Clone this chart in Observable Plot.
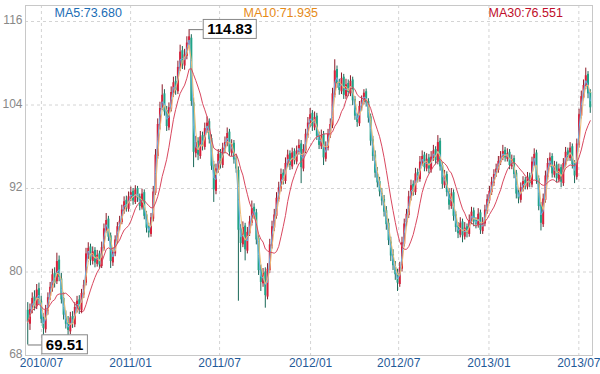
<!DOCTYPE html>
<html><head><meta charset="utf-8">
<script src="https://cdn.jsdelivr.net/npm/d3@7"></script>
<script src="https://cdn.jsdelivr.net/npm/@observablehq/plot@0.6"></script>
<style>html,body{margin:0;padding:0;background:#fff;} #chart{width:600px;height:374px;}</style>
</head><body><div id="chart"></div>
<script>
const open = [
74.5,72.5,74.9,76.4,75.0,77.6,75.8,73.4,71.7,74.3,
76.5,77.6,79.8,78.6,81.7,79.0,76.2,73.6,72.7,71.4,
73.6,72.4,74.7,76.0,74.4,76.7,78.4,82.4,83.6,81.5,
83.1,81.1,82.6,80.8,83.3,86.0,87.6,85.2,81.3,82.6,
84.4,86.7,87.1,88.7,90.3,89.0,90.6,91.6,90.0,92.0,
90.8,89.2,91.4,88.2,86.5,85.4,87.6,91.3,96.6,101.0,
103.7,105.6,103.2,100.7,103.4,105.6,107.4,105.9,109.2,111.8,
109.6,111.0,112.7,113.6,104.3,97.0,98.8,96.6,99.6,97.9,
100.4,101.6,99.2,95.4,91.6,94.6,97.1,95.3,97.6,98.4,
100.1,97.0,98.5,96.3,94.6,86.2,83.9,86.6,83.0,85.5,
87.0,89.3,88.5,84.8,80.4,78.3,80.0,76.4,80.2,83.7,
86.3,88.0,90.4,91.9,94.2,93.0,95.4,97.0,95.1,97.3,
95.8,97.2,98.4,94.8,97.4,99.6,101.2,102.8,100.7,102.4,
99.7,98.0,99.8,96.2,97.8,99.6,101.0,105.4,109.1,107.2,
105.9,108.0,105.2,107.1,105.6,107.6,104.8,102.2,101.3,103.6,
104.4,105.9,104.5,102.3,99.0,96.8,94.0,93.0,91.3,90.4,
88.8,87.0,84.3,82.5,80.7,79.8,78.2,80.4,84.0,87.1,
88.1,90.6,92.6,91.4,94.3,93.3,95.6,96.8,94.8,96.4,
94.6,96.3,97.6,95.8,98.8,95.3,92.4,94.0,91.6,89.4,
91.4,88.2,86.6,85.3,87.2,85.0,86.5,85.4,87.2,88.8,
87.4,86.7,88.5,85.8,86.9,88.7,90.2,91.4,92.7,94.2,
94.6,95.7,96.4,97.5,96.2,97.2,95.1,96.3,94.2,91.4,
90.3,91.9,93.2,92.2,93.8,92.5,95.6,97.1,93.4,89.6,
86.8,90.3,93.6,95.4,96.6,93.9,95.4,93.2,95.0,92.7,
95.4,97.4,96.3,98.0,95.6,93.6,98.2,102.4,105.0,106.6,
108.4,105.8];
const high = [
75.6,75.4,77.0,77.3,78.2,78.4,76.5,74.0,75.2,77.0,
78.5,80.4,80.6,82.7,82.3,79.8,77.0,74.4,73.6,74.2,
74.3,75.6,76.5,76.6,77.5,78.8,83.4,84.2,84.0,83.6,
83.5,83.1,83.0,84.3,86.9,88.4,88.0,85.6,83.5,85.2,
87.1,88.0,89.6,90.8,90.9,91.5,92.2,92.0,92.4,92.3,
91.2,91.9,91.8,88.7,87.0,88.4,92.3,97.6,102.0,104.4,
106.9,106.2,103.8,104.3,106.6,108.0,108.1,110.3,112.6,112.4,
112.0,113.8,114.83,114.1,105.0,99.5,99.3,100.2,100.1,101.4,
102.3,102.0,99.7,95.9,95.5,97.6,97.6,98.5,99.4,100.7,
100.5,99.0,98.9,96.8,95.1,86.8,87.2,87.0,86.4,88.0,
90.2,89.8,89.0,85.2,81.0,80.5,80.6,81.2,84.7,87.3,
89.0,91.4,92.9,94.8,94.7,96.4,97.5,97.4,97.8,97.7,
98.1,99.0,98.9,98.3,100.5,102.2,103.5,103.2,103.0,102.8,
100.1,100.4,100.2,98.7,100.5,102.0,106.4,110.5,109.6,107.7,
108.6,108.4,107.7,107.6,108.2,108.0,105.2,102.8,104.5,105.3,
106.2,106.3,104.9,102.7,99.5,97.4,95.0,93.6,92.0,91.0,
89.4,87.6,85.0,83.2,81.5,80.4,81.4,85.0,87.6,89.0,
91.6,93.2,93.1,94.9,94.8,96.6,97.4,97.2,97.0,96.9,
97.3,98.2,98.0,99.6,99.2,95.7,94.6,94.4,92.0,92.0,
91.8,88.7,87.1,87.8,87.6,87.1,86.9,88.2,89.3,89.2,
87.8,89.1,88.9,87.8,89.6,91.1,92.3,93.6,94.7,95.5,
96.6,97.3,98.2,97.9,97.7,97.6,96.8,96.7,94.6,91.8,
92.8,93.7,93.6,94.3,94.2,96.5,97.7,97.5,93.8,90.0,
91.2,94.5,96.3,97.1,97.0,95.9,95.8,95.5,95.4,96.3,
97.9,97.8,98.6,98.4,96.0,99.1,103.4,106.0,107.6,109.3,
108.8,106.2];
const low = [
69.51,71.6,74.0,74.4,74.6,75.3,72.6,70.9,71.2,73.8,
75.9,77.1,77.7,78.2,78.6,75.4,73.1,71.8,70.7,71.0,
71.9,72.0,74.1,73.9,74.0,76.2,78.0,81.8,80.9,81.0,
80.6,80.7,80.4,80.5,83.0,85.6,84.4,80.5,80.8,82.2,
84.0,85.9,86.8,88.3,88.6,88.6,90.1,89.6,89.7,90.0,
88.8,88.9,87.5,85.6,84.9,85.0,87.2,91.0,96.2,100.4,
103.2,102.4,100.2,100.3,103.0,105.1,105.4,105.5,108.8,109.1,
109.0,110.5,112.1,103.8,95.0,96.4,96.0,96.2,97.4,97.5,
99.9,98.4,94.6,90.0,91.1,94.2,94.8,94.9,97.1,98.0,
96.6,96.6,95.5,94.2,75.8,82.8,83.5,81.6,82.6,85.1,
86.6,87.6,83.9,79.5,77.2,77.8,74.8,76.0,79.8,83.3,
85.8,87.6,90.0,91.5,92.5,92.6,95.0,94.6,94.7,95.4,
95.4,96.8,92.7,94.4,97.0,99.2,100.8,100.2,100.3,98.9,
97.6,97.6,95.3,95.8,97.4,99.2,100.6,105.0,106.4,105.4,
105.5,104.8,104.8,105.2,105.2,103.9,101.8,100.8,100.9,103.1,
104.0,103.7,101.4,98.1,95.9,93.5,92.1,90.8,89.5,87.9,
86.0,83.8,81.5,80.2,78.8,77.2,77.8,80.0,83.6,86.4,
87.7,90.2,90.9,91.0,92.8,92.9,95.2,94.4,94.4,94.1,
94.2,95.9,95.4,95.4,94.5,91.9,92.0,90.8,88.9,89.0,
87.3,85.7,84.8,84.9,84.2,84.6,84.9,85.0,86.8,86.5,
86.2,86.3,85.4,85.4,86.5,88.3,89.8,91.0,92.3,93.6,
94.2,95.3,96.0,95.8,95.8,94.7,94.7,93.4,90.5,89.8,
89.9,91.5,91.8,91.8,92.1,92.1,95.2,92.6,88.8,85.9,
86.4,89.9,93.2,95.0,93.5,93.5,92.8,92.8,92.1,92.3,
95.0,95.9,95.9,94.8,92.7,93.2,97.8,102.0,104.6,106.2,
104.9,102.8];
const close = [
72.8,74.6,76.2,75.1,77.4,76.0,73.2,71.9,74.5,76.3,
77.8,79.6,78.4,81.5,79.2,76.0,73.8,72.5,71.6,73.4,
72.6,74.9,75.8,74.6,76.9,78.1,82.6,83.4,81.7,82.9,
81.3,82.4,81.0,83.5,86.2,87.4,85.0,81.5,82.8,84.6,
86.5,87.3,88.9,90.1,89.2,90.8,91.4,90.2,91.8,90.6,
89.4,91.2,88.0,86.3,85.6,87.8,91.5,96.8,101.2,103.5,
105.4,103.0,100.9,103.6,105.8,107.2,106.1,109.4,111.6,109.8,
111.2,112.9,113.8,104.5,97.2,98.6,96.8,99.4,98.1,100.6,
101.4,99.0,95.2,91.8,94.8,96.9,95.5,97.8,98.6,99.9,
97.2,98.3,96.1,94.8,86.0,84.1,86.4,83.2,85.7,87.2,
89.1,88.3,84.6,80.2,78.5,79.8,76.6,80.4,83.9,86.5,
88.2,90.6,92.1,94.0,93.2,95.6,96.8,95.3,97.1,96.0,
97.4,98.2,95.0,97.6,99.8,101.4,102.6,100.9,102.2,99.5,
98.2,99.6,96.4,98.0,99.8,101.2,105.6,108.9,107.0,106.1,
107.8,105.4,106.9,105.8,107.4,104.6,102.4,101.5,103.8,104.6,
105.7,104.3,102.1,98.8,96.6,94.2,92.8,91.5,90.2,88.6,
86.8,84.5,82.3,80.9,79.6,78.4,80.6,84.2,86.9,88.3,
90.8,92.4,91.6,94.1,93.5,95.8,96.6,95.0,96.2,94.8,
96.5,97.4,96.0,98.6,95.1,92.6,93.8,91.4,89.6,91.2,
88.0,86.4,85.5,87.0,85.2,86.3,85.6,87.4,88.6,87.2,
86.9,88.3,86.0,87.1,88.9,90.4,91.6,92.9,94.0,94.8,
95.9,96.6,97.3,96.4,97.0,95.3,96.1,94.0,91.2,90.5,
92.1,93.0,92.4,93.6,92.7,95.8,96.9,93.2,89.4,87.0,
90.5,93.8,95.6,96.4,94.1,95.2,93.4,94.8,92.9,95.6,
97.2,96.5,97.8,95.4,93.8,98.4,102.6,105.2,106.8,108.2,
105.6,103.6];

const xTickLabels = ["2010/07","2011/01","2011/07","2012/01","2012/07","2013/01","2013/07"];
const xTickIndex = [6.1, 45.9, 85.6, 126.2, 165.5, 205.8, 245.9];
const yTicks = [68, 80, 92, 104, 116];
const maNames = ["MA5", "MA10", "MA30"];
const maValues = ["73.680", "71.935", "76.551"];
const maWindows = [2, 3, 10];

// styles
const maLineColors = ["#6cb0e4", "#eebd78", "#d9485f"];
const maTextColors = ["#1a6db5", "#e68a17", "#c00e2a"];
const legendDx = [29, 218, 463];
const upBody = "#d9203a", upWick = "#8c1826", downBody = "#20a488", downWick = "#1a6858";

const N = close.length;
const rows = close.map((c, i) => ({i, o: open[i], h: high[i], l: low[i], c}));
const hiI = d3.maxIndex(high), loI = d3.minIndex(low);
const ann = [{i: hiI, v: high[hiI]}, {i: loI, v: low[loI]}];
const gap = 6.3;
const fmt = d3.format(".2f");

const chart = Plot.plot({
  width: 600, height: 374,
  marginLeft: 25, marginRight: 8, marginTop: 5, marginBottom: 19,
  style: {fontFamily: "Liberation Sans, Arial, sans-serif", background: "#fff"},
  x: {domain: [-1, N], axis: null},
  y: {domain: [68, 118.3], axis: null},
  color: {type: "identity"},
  marks: [
    Plot.gridY(yTicks.filter(d => d > 68), {stroke: "#d4d4d4", strokeOpacity: 1, strokeDasharray: "3,3"}),
    Plot.gridX(xTickIndex, {stroke: "#d4d4d4", strokeOpacity: 1, strokeDasharray: "3,3"}),
    Plot.frame({stroke: "#c8c8c8"}),
    Plot.ruleX(rows, {x: "i", y1: "l", y2: "h", stroke: d => d.c >= d.o ? upWick : downWick, strokeWidth: 1}),
    Plot.ruleX(rows, {x: "i", y1: "o", y2: "c", stroke: d => d.c >= d.o ? upBody : downBody, strokeWidth: 2}),
    ...maWindows.map((k, j) => Plot.lineY(rows, Plot.windowY({k, anchor: "end"}, {x: "i", y: "c", stroke: maLineColors[j], strokeWidth: 1}))),
    Plot.link(ann, {x1: "i", x2: d => d.i + gap, y1: "v", y2: "v", stroke: "#777"}),
    Plot.text(ann, {x: d => d.i + gap, y: "v", text: d => fmt(d.v), textAnchor: "start", dx: 4, fontWeight: "bold", fontSize: 15, fill: "#000"}),
    Plot.text(yTicks, {y: d => d, frameAnchor: "left", textAnchor: "end", dx: -3, dy: -1, fill: "#888", fontSize: 12}),
    Plot.text(xTickIndex, {x: d => d, text: (d, k) => xTickLabels[k], frameAnchor: "bottom", dy: 11, fill: "#1f5a99", fontSize: 12}),
    ...maNames.map((n, j) => Plot.text([n + ":" + maValues[j]], {frameAnchor: "top-left", dx: legendDx[j], dy: 7, text: d => d, textAnchor: "start", lineAnchor: "middle", fill: maTextColors[j], fontSize: 12.5}))
  ]
});
document.getElementById("chart").appendChild(chart);

// white boxes behind the extreme-value labels
const labels = new Set(ann.map(d => fmt(d.v)));
chart.querySelectorAll("text").forEach(t => {
  if (!labels.has(t.textContent)) return;
  const bb = t.getBBox();
  const r = document.createElementNS("http://www.w3.org/2000/svg", "rect");
  r.setAttribute("x", bb.x - 4); r.setAttribute("y", bb.y - 1);
  r.setAttribute("width", bb.width + 8); r.setAttribute("height", bb.height + 2);
  r.setAttribute("fill", "#fff"); r.setAttribute("stroke", "#888");
  const tr = t.getAttribute("transform"); if (tr) r.setAttribute("transform", tr);
  t.parentNode.insertBefore(r, t);
});
</script></body></html>
